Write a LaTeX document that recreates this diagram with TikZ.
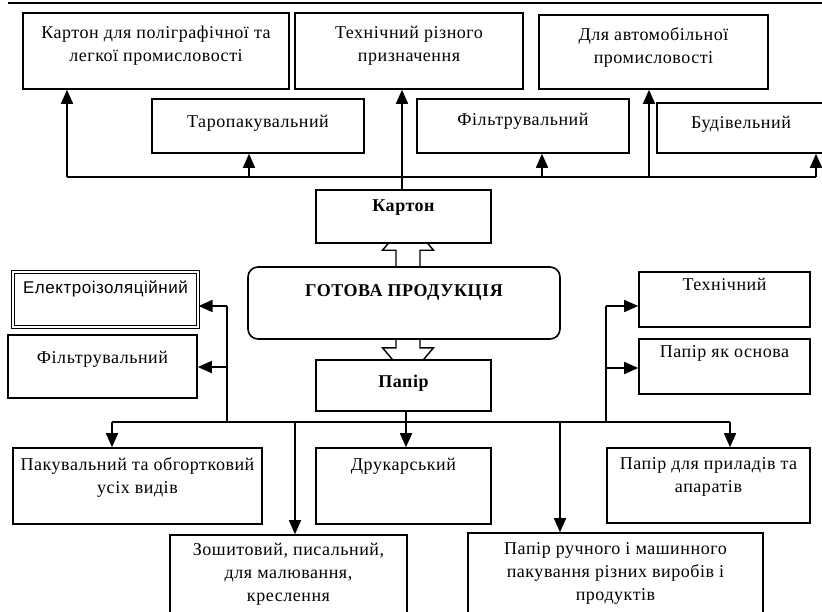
\documentclass[tikz,border=0pt]{standalone}
\usepackage{fontspec}
\setmainfont[LetterSpace=3]{Liberation Serif}
\newfontfamily\arialf[LetterSpace=3]{Liberation Sans}
\usetikzlibrary{arrows.meta,backgrounds,calc}

\begin{document}
\begin{tikzpicture}[
    x=1pt, y=-1pt,
    box/.style={draw, fill=white, line width=1.6pt, align=center, inner sep=0pt,
      font=\fontsize{18}{23}\selectfont},
    wh/.style 2 args={minimum width=#1pt, minimum height=#2pt},
    ln/.style={line width=1.6pt},
    arr/.style={line width=1.6pt, -{Triangle[length=14pt,width=12pt]}},
    hollow/.style={draw, fill=white, line width=1.4pt}
  ]
  \useasboundingbox (0,0) rectangle (822,611);
  \draw[line width=2pt] (8,3) -- (822,3);

  % karton side
  \node[box, wh={266}{76}, text depth=15pt] (kpl) at (156,51) {Картон для поліграфічної та\\легкої промисловості};
  \node[box, wh={228}{76}, text depth=15pt] (tech) at (409,51) {Технічний різного\\призначення};
  \node[box, wh={229}{74}, text depth=13pt] (avto) at (653.5,52) {Для автомобільної\\промисловості};
  \node[box, wh={212}{54}, text depth=10pt] (taro) at (258,126) {Таропакувальний};
  \node[box, wh={212}{54}, text depth=14pt] (filt) at (523,126) {Фільтрувальний};
  \node[box, wh={168}{50}, text depth=12pt] (bud) at (741,128) {Будівельний};

  \node[box, wh={175}{53}, text depth=21pt, font=\fontsize{18}{23}\selectfont\bfseries] (karton) at (403.5,216.5) {Картон};
  \node[box, wh={312}{72}, text depth=24pt, rounded corners=10pt, font=\fontsize{18}{23}\selectfont\bfseries] (gotova) at (404,303) {ГОТОВА ПРОДУКЦІЯ};
  \node[box, wh={175}{51}, text depth=9pt, font=\fontsize{18}{23}\selectfont\bfseries] (papir) at (403.5,385.5) {Папір};

  % papir side
  \node[box, wh={185}{55}, text depth=25pt, line width=1pt, double, double distance=1.4pt, font=\fontsize{17}{23}\arialf] (elek) at (105.5,299.5) {Електроізоляційний};
  \node[box, wh={189}{63}, text depth=19pt] (filtp) at (102.5,366.5) {Фільтрувальний};
  \node[box, wh={171}{55}, text depth=31pt] (tehn) at (724.5,299.5) {Технічний};
  \node[box, wh={171}{55}, text depth=29pt] (osnova) at (724.5,366.5) {Папір як основа};
  \node[box, wh={249}{76}, text depth=21pt] (pakuv) at (137.5,486) {Пакувальний та обгортковий\\усіх видів};
  \node[box, wh={175}{76}, text depth=44pt] (druk) at (403.5,486) {Друкарський};
  \node[box, wh={203}{75}, text depth=20pt] (pryl) at (708.5,485.5) {Папір для приладів та\\апаратів};
  \node[box, wh={237}{78}] (zosh) at (288.5,574) {Зошитовий, писальний,\\для малювання,\\креслення};
  \node[box, wh={295}{80}] (ruchn) at (615.5,573) {Папір ручного і машинного\\пакування різних виробів і\\продуктів};

  % hollow arrows
  \begin{scope}[on background layer]
    \draw[hollow] ($(gotova.north)+(-8,0)$) -- ++(0,-16) -- ++(-13.5,0) -- ++(25.5,-30)
      -- ++(25.5,30) -- ++(-13.5,0) -- ++(0,16);
    \draw[hollow] ($(gotova.south)+(-8,0)$) -- ++(0,8) -- ++(-13.5,0) -- ++(25.5,30)
      -- ++(25.5,-30) -- ++(-13.5,0) -- ++(0,-8);
  \end{scope}

  % top bus
  \coordinate (tbL) at (67,177);
  \coordinate (tbR) at (816,177);
  \draw[ln] (tbL) -- (tbR);
  \draw[arr] (karton.north -| 402,0) -- (tech.south -| 402,0);
  \draw[arr] (tbL) -- (tbL |- kpl.south);
  \draw[arr] (tbL -| 249,0) -- (taro.south -| 249,0);
  \draw[arr] (tbL -| 542,0) -- (filt.south -| 542,0);
  \draw[arr] (tbL -| 649,0) -- (avto.south -| 649,0);
  \draw[arr] (tbR) -- (tbR |- bud.south);

  % bottom bus
  \coordinate (bbL) at (112,422);
  \coordinate (bbR) at (730,422);
  \coordinate (lvT) at (227,306);
  \coordinate (rvT) at (606,306);
  \draw[ln] (bbL) -- (bbR);
  \draw[ln] (lvT) -- (lvT |- bbL);
  \draw[ln] (rvT) -- (rvT |- bbL);
  \draw[arr] (lvT) -- (lvT -| elek.east);
  \draw[arr] (lvT |- 0,367) -- (filtp.east |- 0,367);
  \draw[arr] (rvT) -- (rvT -| tehn.west);
  \draw[arr] (rvT |- 0,368) -- (osnova.west |- 0,368);
  \draw[arr] (papir.south -| 406,0) -- (druk.north -| 406,0);
  \draw[arr] (bbL) -- (bbL |- pakuv.north);
  \draw[arr] (bbL -| 295,0) -- (zosh.north -| 295,0);
  \draw[arr] (bbL -| 560,0) -- (ruchn.north -| 560,0);
  \draw[arr] (bbR) -- (bbR |- pryl.north);
\end{tikzpicture}
\end{document}
